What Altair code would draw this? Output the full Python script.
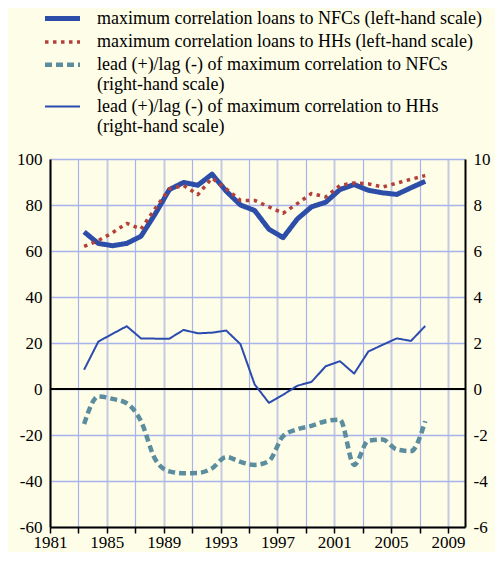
import altair as alt
import pandas as pd

# ---- data ----
years = list(range(1983, 2008))
nfc_corr = [68.3, 63.3, 62.3, 63.3, 66.4, 76.1, 86.7, 89.8, 88.6, 93.4, 86.0, 80.0, 77.6,
            69.5, 65.8, 73.9, 79.2, 81.2, 86.7, 88.9, 86.4, 85.3, 84.6, 87.5, 90.3]
hh_corr = [62.0, 64.5, 68.0, 72.0, 69.5, 78.5, 87.0, 88.5, 84.5, 91.7, 87.0, 82.0, 82.0,
           79.2, 76.4, 80.6, 85.0, 83.5, 88.5, 89.6, 89.2, 87.8, 89.5, 91.2, 92.8]
nfc_lead = [-1.52, -0.32, -0.43, -0.62, -1.40, -3.05, -3.58, -3.66, -3.65, -3.45, -2.95, -3.17, -3.30,
            -3.13, -2.05, -1.75, -1.60, -1.40, -1.33, -3.30, -2.25, -2.20, -2.63, -2.70, -1.40]
hh_lead = [0.84, 2.06, 2.40, 2.73, 2.20, 2.19, 2.19, 2.57, 2.42, 2.45, 2.54, 1.95, 0.20,
           -0.60, -0.25, 0.14, 0.31, 0.99, 1.21, 0.67, 1.63, 1.92, 2.20, 2.09, 2.74]

labels = [
    "maximum correlation loans to NFCs (left-hand scale)",
    "maximum correlation loans to HHs (left-hand scale)",
    "lead (+)/lag (-) of maximum correlation to NFCs",
    "(right-hand scale)",
    "lead (+)/lag (-) of maximum correlation to HHs",
    "(right-hand scale) ",
]
colors = ["#2C4DA8", "#B3413A", "#5B8D9E", "transparent", "#2B4BAF", "transparent"]
widths = [5, 3.5, 4.5, 0, 2, 0]
dashes = [[1, 0], [3.5, 4.5], [7, 4], [1, 0], [1, 0], [1, 0]]

x_ticks = list(range(1981, 2010, 2))
left_ticks = list(range(-60, 101, 20))
right_ticks = list(range(-6, 11, 2))

FONT = "'Liberation Serif', 'Times New Roman', Times, serif"
BG = "#FEFDE8"
GRID = "#A9B2EA"
GRID2 = "#C6C9E2"


def frame(vals, name):
    return pd.DataFrame({"year": years, "value": vals, "series": [name] * len(years)})


leg = alt.Legend(orient="none", legendX=1, legendY=-152, symbolType="M-2,0L2,0",
                 symbolSize=306, labelFont=FONT, labelFontSize=18, labelColor="black",
                 labelLimit=600, labelOffset=23, rowPadding=2.4, padding=0,
                 direction="vertical", title=None)

color = alt.Color("series:N", scale=alt.Scale(domain=labels, range=colors), legend=leg, title=None)
swidth = alt.StrokeWidth("series:N", scale=alt.Scale(type="ordinal", domain=labels, range=widths),
                         legend=leg, title=None)
sdash = alt.StrokeDash("series:N", scale=alt.Scale(domain=labels, range=dashes), legend=leg, title=None)

x_axis = alt.Axis(values=x_ticks, title=None,
                  labelExpr="(datum.value - 1981) % 4 == 0 ? toString(datum.value) : ''",
                  labelFont=FONT, labelFontSize=17, labelColor="black", labelPadding=1,
                  domainColor="black", domainWidth=2, tickColor="black", tickWidth=1.5,
                  tickSize=6, grid=True,
                  gridColor=alt.condition("(datum.value - 1981) % 4 == 0", alt.value(GRID2), alt.value(GRID)),
                  gridWidth=alt.condition("(datum.value - 1981) % 4 == 0", alt.value(2), alt.value(1.2)),
                  gridOpacity=1, labelFlush=False, labelOverlap=False)
x_enc = alt.X("xpos:Q", scale=alt.Scale(domain=[1981, 2010.2], nice=False, zero=False), axis=x_axis)

left_axis = alt.Axis(values=left_ticks, title=None, labelExpr="toString(datum.value)",
                     labelFont=FONT, labelFontSize=17, labelColor="black", labelPadding=8,
                     ticks=False, domainColor="black", domainWidth=2, grid=True,
                     gridColor=GRID, gridWidth=1.3, gridOpacity=1, labelOverlap=False)
right_axis = alt.Axis(values=right_ticks, title=None, orient="right", labelExpr="toString(datum.value)",
                      labelFont=FONT, labelFontSize=17, labelColor="black", labelPadding=8,
                      ticks=False, domainColor="black", domainWidth=2, grid=False, labelOverlap=False)

y_left = alt.Y("value:Q", scale=alt.Scale(domain=[-60, 100], nice=False, zero=False), axis=left_axis)
y_right = alt.Y("value:Q", scale=alt.Scale(domain=[-6, 10], nice=False, zero=False), axis=right_axis)


def line(df, y, interp):
    return (alt.Chart(df)
            .transform_calculate(xpos="datum.year + 0.4")
            .mark_line(interpolate=interp, strokeCap="butt", strokeJoin="round")
            .encode(x=x_enc, y=y, color=color, strokeWidth=swidth, strokeDash=sdash))


zero = (alt.Chart(pd.DataFrame({"value": [0]}))
        .mark_rule(color="black", strokeWidth=2)
        .encode(y=y_left))

left = alt.layer(
    zero,
    line(frame(nfc_corr, labels[0]), y_left, "linear"),
    line(frame(hh_corr, labels[1]), y_left, "linear"),
)
right = alt.layer(
    line(frame(nfc_lead, labels[2]), y_right, "monotone"),
    line(frame(hh_lead, labels[4]), y_right, "linear"),
)

chart = (alt.layer(left, right)
         .resolve_scale(y="independent")
         .properties(width=415, height=368,
                     padding={"left": 42, "top": 151, "right": 30, "bottom": 25},
                     autosize=alt.AutoSizeParams(type="none"),
                     background=BG)
         .configure_view(stroke=None)
         .configure_axis(labelFont=FONT, labelFontSize=17, labelColor="black")
         .configure_text(font=FONT))

chart.save("out.html", embed_options={"renderer": "svg", "actions": False})
